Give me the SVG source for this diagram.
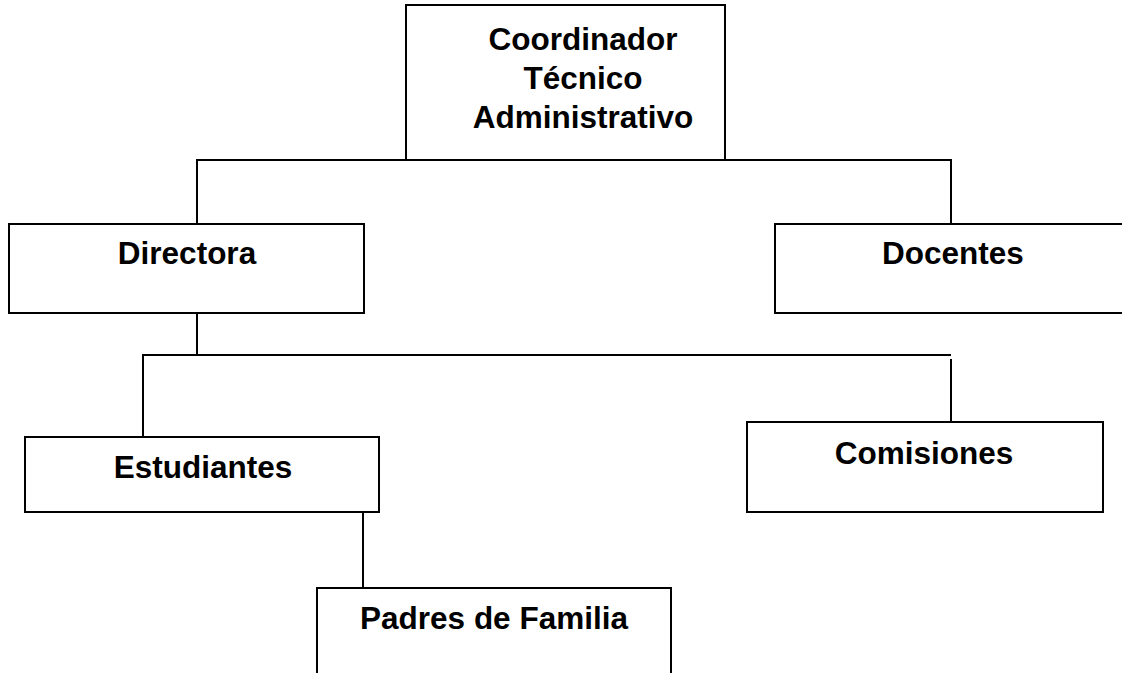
<svg xmlns="http://www.w3.org/2000/svg" width="1122" height="673" viewBox="0 0 1122 673">
<style>
.box{fill:#fff;stroke:#000;stroke-width:2}
.lbl{font-family:"Liberation Sans",Arial,sans-serif;font-weight:bold;font-size:31.5px;fill:#000;text-anchor:middle}
.con{fill:none;stroke:#000;stroke-width:2}
</style>
<rect width="1122" height="673" fill="#fff"/>
<g id="connectors">
<path class="con" d="M197,224 V160 H951 V224"/>
<path class="con" d="M197,313 V355"/>
<path class="con" d="M143,437 V355 H951"/>
<path class="con" d="M951,359 V422"/>
<path class="con" d="M363,512 V588"/>
</g>
<g id="coordinador">
<rect class="box" x="406" y="5" width="319" height="155"/>
<text class="lbl" x="583" y="50">Coordinador</text>
<text class="lbl" x="583" y="89">Técnico</text>
<text class="lbl" x="583" y="128">Administrativo</text>
</g>
<g id="directora">
<rect class="box" x="9" y="224" width="355" height="89"/>
<text class="lbl" x="187" y="264">Directora</text>
</g>
<g id="docentes">
<rect class="box" x="775" y="224" width="360" height="89"/>
<text class="lbl" x="953" y="264">Docentes</text>
</g>
<g id="estudiantes">
<rect class="box" x="25" y="437" width="354" height="75"/>
<text class="lbl" x="203" y="478">Estudiantes</text>
</g>
<g id="comisiones">
<rect class="box" x="747" y="422" width="356" height="90"/>
<text class="lbl" x="924" y="464">Comisiones</text>
</g>
<g id="padres">
<rect class="box" x="317" y="588" width="354" height="100"/>
<text class="lbl" x="494" y="629">Padres de Familia</text>
</g>
</svg>
